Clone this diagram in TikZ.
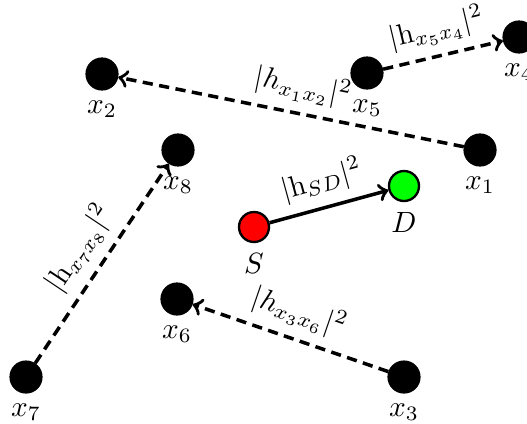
\documentclass[tikz,border=0pt]{standalone}
\usetikzlibrary{positioning}

\begin{document}
\begin{tikzpicture}[line width=0.4pt, x=1.2cm, y=1.2cm,
  relay/.style={circle, fill=black, draw=black, minimum size=0.384cm, inner sep=0pt},
  terminal/.style={circle, draw=black, thick, minimum size=0.36cm, inner sep=0pt},
  link/.style={->, very thick, dash pattern=on 3.5pt off 2.2pt}]

% Fix the frame of the picture
\useasboundingbox (0, 0) rectangle (5.27, 4.23);

% Place the relays
\foreach \i/\x/\y in {1/4.80/2.73, 2/1.02/3.49, 3/4.04/0.46, 4/5.19/3.86,
                      5/3.67/3.50, 6/1.77/1.24, 7/0.26/0.46, 8/1.78/2.73} {
    \node[relay, label=below:$x_{\i}$] (x\i) at (\x, \y) {};
}

% Source and destination
\node[terminal, fill=red, label=below:$S$] (S) at (2.54, 1.96) {};
\node[terminal, fill=green, label=below:$D$] (D) at (4.04, 2.37) {};

% Direct link
\draw[->, very thick] (S) -- node[above, sloped] {$|\mathrm{h}_{SD}|^2$} (D);

% Relay links
\draw[link] (x1) -- node[above, sloped, pos=0.48] {$|h_{x_1x_2}|^2$} (x2);
\draw[link] (x5) -- node[above, sloped] {$|\mathrm{h}_{x_5x_4}|^2$} (x4);
\draw[link] (x7) -- node[above, sloped] {$|\mathrm{h}_{x_7x_8}|^2$} (x8);
\draw[link] (x3) -- node[above, sloped] {$|h_{x_3x_6}|^2$} (x6);

\end{tikzpicture}
\end{document}
